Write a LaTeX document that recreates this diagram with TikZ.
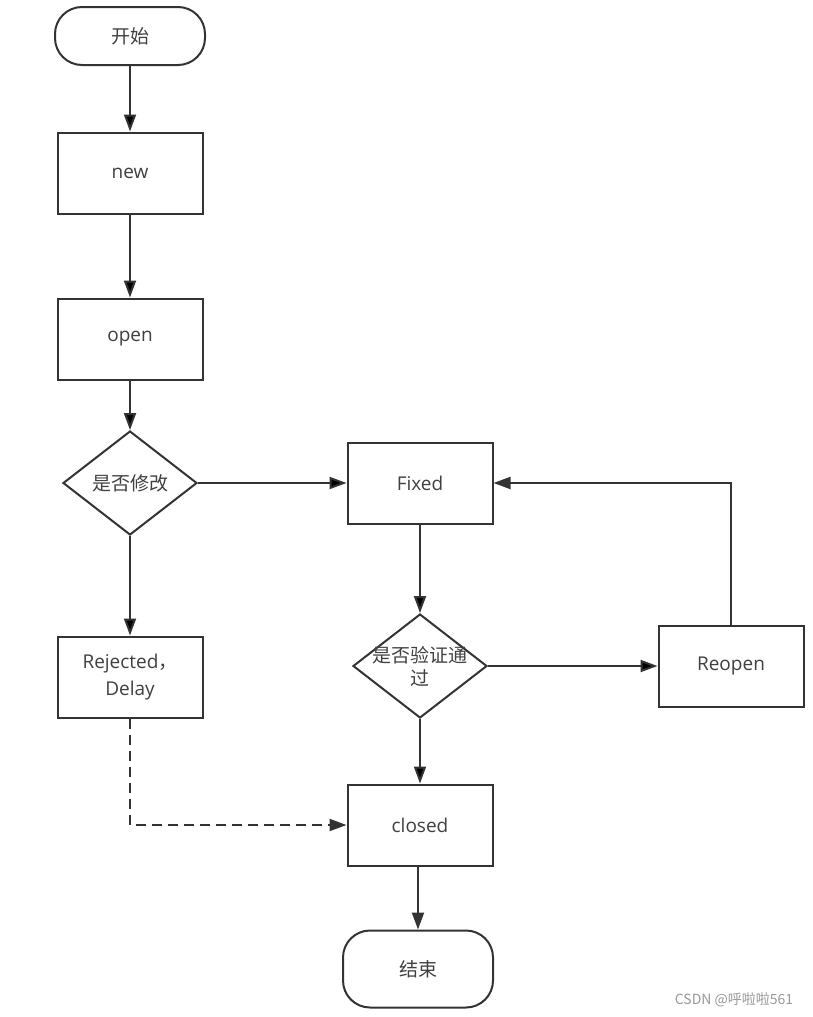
\documentclass[tikz,border=0pt]{standalone}
\usepackage{fontspec}
\setmainfont{Open Sans}
\newfontfamily\cjk{Noto Sans CJK SC}
\usetikzlibrary{arrows.meta,shapes.geometric}
\definecolor{linegray}{HTML}{333333}
\definecolor{textgray}{HTML}{404040}
\tikzset{
    txt/.style={text=textgray, font=\fontsize{19}{23}\selectfont, align=center},
    cjktxt/.style={txt, font=\cjk\fontsize{19}{23}\selectfont},
    box/.style={draw=linegray, line width=2pt, minimum width=145pt, minimum height=81pt, inner sep=0pt, txt},
    terminal/.style={box, minimum width=150pt, rounded corners=27pt, font=\cjk\fontsize{19}{23}\selectfont},
    decision/.style={draw=linegray, line width=2pt, diamond, minimum width=134pt, minimum height=104pt, inner sep=0pt},
    flow/.style={draw=linegray, line width=2pt, -{Triangle[length=17pt,width=12pt]}},
}
\begin{document}
\begin{tikzpicture}[x=1pt, y=-1pt]
    \useasboundingbox[fill=white] (0,0) rectangle (813,1017);
    \node[terminal, minimum height=58pt] (start) at (130,36) {开始};
    \node[box] (new) at (130,173) {new};
    \node[box] (open) at (130,339) {open};
    \node[decision, label={[cjktxt]center:是否修改}] (chg) at (130,483) {};
    \node[box] (fix) at (420,483) {Fixed};
    \node[decision, label={[cjktxt]center:{是否验证通\\过}}] (ver) at (420,666) {};
    \node[box] (reo) at (731,666) {Reopen};
    \node[box, font=\fontsize{19}{27}\selectfont] (rej) at (130,677) {Rejected{\cjk ，}\\Delay};
    \node[box] (clo) at (420,825) {closed};
    \node[terminal, minimum height=77pt] (stop) at (418,969) {结束};
    \node[text=black!40, font=\cjk\fontsize{14}{16}\selectfont] (mark) at (734,1000) {CSDN @呼啦啦561};
    \path[flow] (start) edge (new);
    \path[flow] (new) edge (open);
    \path[flow] (open) edge (chg);
    \path[flow] (chg) edge (fix);
    \path[flow] (chg) edge (rej);
    \path[flow] (fix) edge (ver);
    \path[flow] (ver) edge (reo);
    \path[flow] (ver) edge (clo);
    \draw[flow] (clo.south -| stop.north) -- (stop.north);
    \draw[flow] (reo.north) |- (fix.east);
    \draw[flow, dash pattern=on 10pt off 6pt] (rej.south) |- (clo.west);
\end{tikzpicture}
\end{document}
